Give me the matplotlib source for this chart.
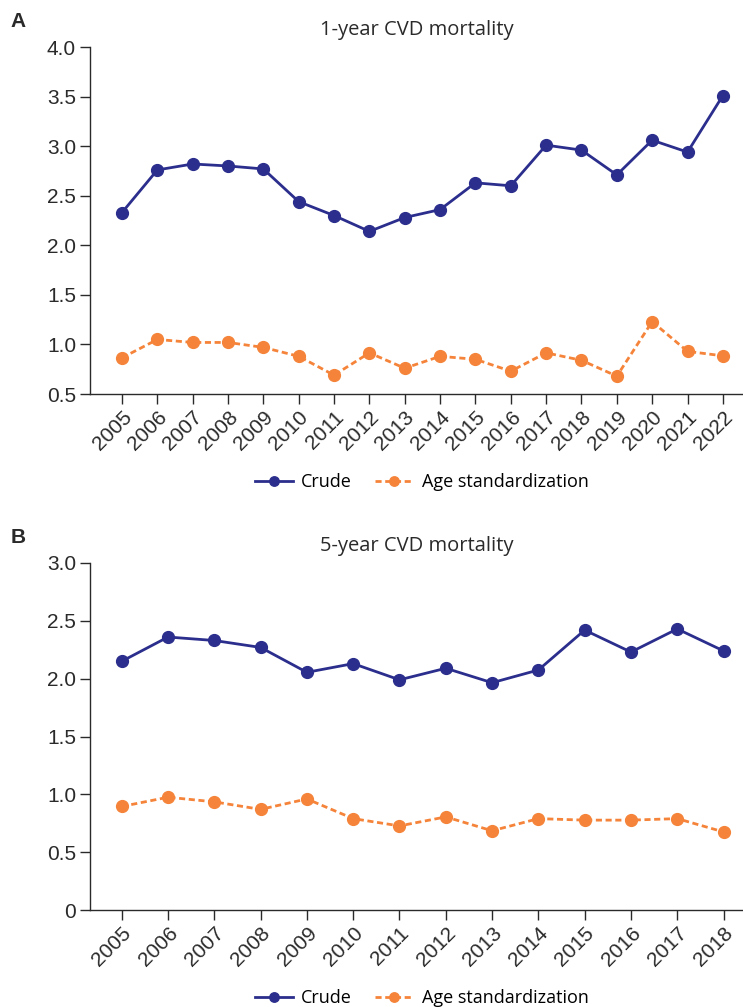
import numpy as np
import matplotlib
matplotlib.use('Agg')
import matplotlib.pyplot as plt
from matplotlib.ticker import FixedLocator, FuncFormatter

# annual CVD mortality (%)
years_1y = list(range(2005, 2023))
crude_1y = [2.33, 2.76, 2.82, 2.80, 2.77, 2.44, 2.30, 2.14, 2.28, 2.36,
            2.63, 2.60, 3.01, 2.96, 2.71, 3.06, 2.94, 3.51]
agestd_1y = [0.865, 1.05, 1.02, 1.02, 0.97, 0.88, 0.69, 0.915, 0.76, 0.88,
             0.85, 0.73, 0.915, 0.84, 0.68, 1.23, 0.93, 0.885]

years_5y = list(range(2005, 2019))
crude_5y = [2.15, 2.36, 2.33, 2.27, 2.055, 2.13, 1.99, 2.09, 1.965, 2.075,
            2.42, 2.23, 2.43, 2.24]
agestd_5y = [0.895, 0.975, 0.935, 0.87, 0.96, 0.79, 0.727, 0.805, 0.685, 0.79,
             0.777, 0.777, 0.79, 0.675]

NAVY = '#2b2e8c'
ORANGE = '#f5843a'
INK = '#2a2a2a'
TICK_FONT = 'Liberation Sans'
TEXT_FONT = 'Open Sans'

W, H = 743, 1007
fig = plt.figure(figsize=(W / 100, H / 100), dpi=100)


def px_axes(left, top, right, bottom):
    return fig.add_axes([left / W, 1 - bottom / H, (right - left) / W, (bottom - top) / H])


def draw_panel(ax, years, crude, agestd, xlim, ylim, yticks, title, letter, legend_y):
    ax.plot(years, crude, color=NAVY, lw=2.0, marker='o', ms=8.5, label='Crude', zorder=3)
    ax.plot(years, agestd, color=ORANGE, lw=2.0, ls=(0, (2.2, 1.3)), marker='o', ms=8.5,
            label='Age standardization', zorder=3)
    ax.set_xlim(*xlim)
    ax.set_ylim(*ylim)
    ax.xaxis.set_major_locator(FixedLocator(years))
    ax.yaxis.set_major_locator(FixedLocator(yticks))
    ax.yaxis.set_major_formatter(FuncFormatter(lambda v, p: '0' if v == 0 else f'{v:.1f}'))
    for s in ('top', 'right'):
        ax.spines[s].set_visible(False)
    for s in ('left', 'bottom'):
        ax.spines[s].set_color(INK)
        ax.spines[s].set_linewidth(1.0)
    ax.tick_params(direction='out', length=7, width=1.0, color=INK, labelcolor=INK,
                   labelsize=15, pad=3)
    for lab in ax.get_yticklabels():
        lab.set_fontfamily(TICK_FONT)
    for lab in ax.get_xticklabels():
        lab.set_fontfamily(TICK_FONT)
        lab.set_rotation(45)
        lab.set_ha('right')
        lab.set_va('top')
        lab.set_rotation_mode('anchor')
    ax.set_title(title, fontsize=14.5, family=TEXT_FONT, color=INK, pad=9, x=0.5)
    ax.text(-0.122, 1.045, letter, transform=ax.transAxes, fontsize=15, fontweight='bold',
            family='Liberation Sans', color=INK, ha='left', va='bottom')
    ax.legend(loc='center', bbox_to_anchor=(0.508, legend_y), ncol=2, frameon=False,
              prop={'family': TEXT_FONT, 'size': 13}, handlelength=2.1, handletextpad=0.45,
              columnspacing=1.3, markerscale=0.8)


axA = px_axes(90, 47, 743, 394)
draw_panel(axA, years_1y, crude_1y, agestd_1y, (2004.095, 2022.57), (0.5, 4.0),
           np.arange(0.5, 4.01, 0.5), '1-year CVD mortality', 'A', -0.255)

axB = px_axes(90, 563, 743, 910)
draw_panel(axB, years_5y, crude_5y, agestd_5y, (2004.315, 2018.42), (0, 3.0),
           np.arange(0, 3.01, 0.5), '5-year CVD mortality', 'B', -0.255)

fig.savefig('out.png', dpi=100)
